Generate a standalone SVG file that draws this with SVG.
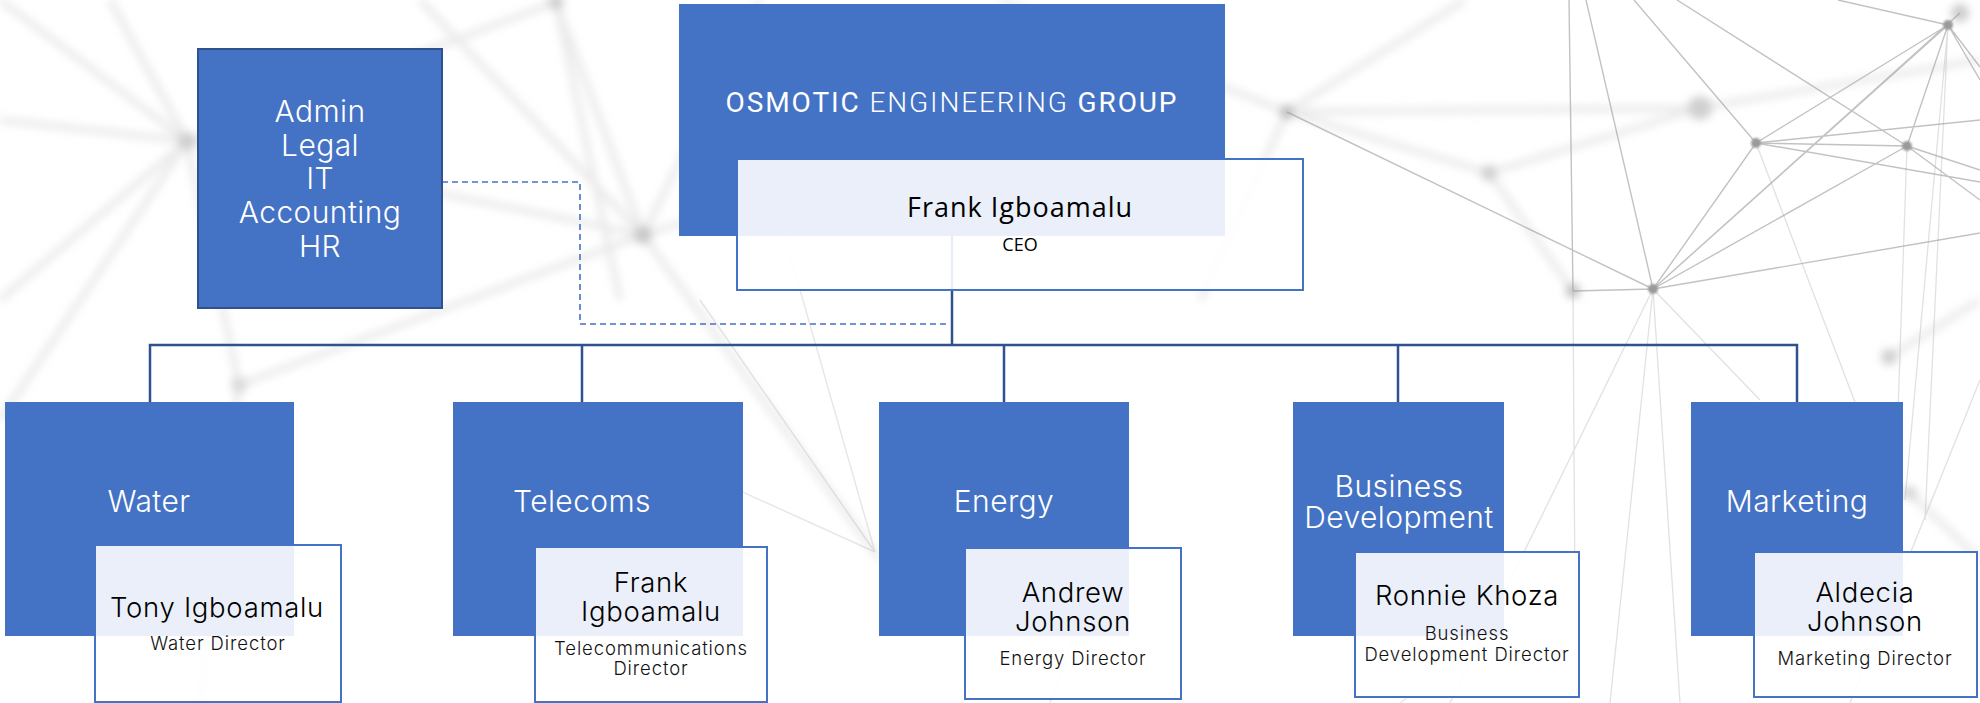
<svg xmlns="http://www.w3.org/2000/svg" width="1980" height="703" viewBox="0 0 1980 703">
<defs>
<filter id="blur" x="-20%" y="-20%" width="140%" height="140%"><feGaussianBlur stdDeviation="4"/></filter>
<filter id="blurS" x="-50%" y="-50%" width="200%" height="200%"><feGaussianBlur stdDeviation="1.2"/></filter>
<style>
.dept{fill:#4472C4;}
.person{fill:#FFFFFF;fill-opacity:0.89;stroke:#4472C4;stroke-width:2;}
.lbl{font-family:Inter,"Noto Sans",sans-serif;font-weight:300;fill:#FFFFFF;font-size:30px;letter-spacing:0.4px;text-anchor:middle;}
.name{font-family:Inter,"Noto Sans",sans-serif;font-weight:300;fill:#000000;font-size:27.5px;letter-spacing:0.7px;text-anchor:middle;}
.role{font-family:Inter,"Noto Sans",sans-serif;font-weight:300;fill:#111111;font-size:18.5px;letter-spacing:0.9px;text-anchor:middle;}
.conn{fill:none;stroke:#2F528F;stroke-width:2.5;}
.dash{fill:none;stroke:#4472C4;stroke-width:1.6;stroke-dasharray:6 4;}
.net{stroke:#9a9a9a;stroke-width:1.4;stroke-opacity:0.6;fill:none;}
.netl{stroke:#a8a8a8;stroke-width:1.3;stroke-opacity:0.35;fill:none;}
.netf{stroke:#d8d8d8;stroke-width:7;stroke-opacity:0.5;fill:none;}
.dot{fill:#9a9a9a;}
</style>
</defs>
<rect x="0" y="0" width="1980" height="703" fill="#FFFFFF"/>
<g id="background">
<g filter="url(#blur)">
<path class="netf" d="M187 141 L0 120 M187 141 L0 0 M187 141 L110 0 M187 141 L0 300 M187 141 L239 385 M187 141 L556 2 M187 141 L643 235 M187 141 L0 420 M643 235 L556 2 M643 235 L760 0 M643 235 L420 0 M643 235 L880 560 M643 235 L1000 120 M239 385 L643 235 M239 385 L200 703 M556 2 L620 300 M1287 112 L1465 0 M1287 112 L1000 0 M1287 112 L1489 173 M1287 112 L1700 108 M1287 112 L1200 300 M1489 173 L1700 108 M1489 173 L1573 291 M1700 108 L1980 60 M1889 357 L1980 300 M1910 493 L1980 560"/>
<circle cx="187" cy="141" r="9" fill="#cfcfcf"/>
<circle cx="643" cy="235" r="9" fill="#c8c8c8"/>
<circle cx="556" cy="2" r="8" fill="#d0d0d0"/>
<circle cx="239" cy="385" r="8" fill="#dadada"/>
<circle cx="1489" cy="173" r="8" fill="#d0d0d0"/>
<circle cx="1700" cy="108" r="12" fill="#d0d0d0"/>
<circle cx="1573" cy="291" r="7" fill="#bdbdbd"/>
<circle cx="1889" cy="357" r="8" fill="#cfcfcf"/>
<circle cx="1910" cy="493" r="7" fill="#d5d5d5"/>
<circle cx="1960" cy="13" r="9" fill="#cccccc"/>
<circle cx="1287" cy="112" r="7" fill="#bbbbbb"/>
</g>
<path class="net" d="M1653 289 L1948 25 M1653 289 L1960 13 M1653 289 L1756 143 M1653 289 L1907 146 M1756 143 L1948 25 M1907 146 L1948 25 M1756 143 L1907 146 M1756 143 L1980 182 M1907 146 L1980 170 M1907 146 L1980 200 M1586 0 L1653 289 M1634 0 L1756 143 M1677 0 L1907 146 M1653 289 L1980 233 M1653 289 L1573 291 M1287 112 L1653 289 M1948 25 L1980 67 M1838 0 L1948 25 M1948 25 L1980 80 M1756 143 L1980 120 M1569 0 L1573 291"/>
<path class="netl" d="M1573 291 L1575 600 M1756 143 L1900 520 M1653 289 L1610 703 M1653 289 L1760 400 M1948 25 L1905 500 M1948 25 L1925 520 M1907 146 L1895 500 M1653 289 L1450 703 M1980 380 L1850 703 M1653 289 L1680 703"/>
<path class="net" style="stroke-opacity:0.25" d="M650 450 L875 552 M700 300 L875 552 M760 150 L875 552 M1400 703 L1560 580 M1120 500 L1050 703"/>
<g filter="url(#blurS)">
<circle class="dot" cx="1948" cy="25" r="5"/>
<circle class="dot" cx="1756" cy="143" r="5"/>
<circle class="dot" cx="1907" cy="146" r="5"/>
<circle class="dot" cx="1653" cy="289" r="5"/>
</g>
</g>
<g id="connectors">
<path class="conn" d="M952 236 V345"/>
<path class="conn" d="M150 402 V345 H1797 V402"/>
<path class="conn" d="M582 345 V402 M1004 345 V402 M1398 345 V402"/>
<path class="dash" d="M442 182 H580 V324 H950"/>
</g>
<g id="node-support">
<rect x="198" y="49" width="244" height="259" fill="#4472C4" stroke="#2F528F" stroke-width="2"/>
<text class="lbl" x="320" y="122">Admin</text>
<text class="lbl" x="320" y="156">Legal</text>
<text class="lbl" x="320" y="189">IT</text>
<text class="lbl" x="320" y="223">Accounting</text>
<text class="lbl" x="320" y="257">HR</text>
</g>
<g id="node-group">
<rect class="dept" x="679" y="4" width="546" height="232"/>
<text x="952" y="112" font-family="Roboto,'Liberation Sans',sans-serif" font-size="28" letter-spacing="1.9" fill="#FFFFFF" text-anchor="middle"><tspan font-weight="400">OSMOTIC</tspan><tspan font-weight="300"> ENGINEERING </tspan><tspan font-weight="400">GROUP</tspan></text>
<rect class="person" x="737" y="159" width="566" height="131"/>
<text x="1020" y="217" font-family="'Open Sans','Noto Sans',sans-serif" font-size="27" letter-spacing="1" fill="#000000" text-anchor="middle">Frank Igboamalu</text>
<text x="1020" y="251" font-family="'Open Sans','Noto Sans',sans-serif" font-size="18" fill="#000000" text-anchor="middle">CEO</text>
</g>
<g id="node-water">
<rect class="dept" x="5" y="402" width="289" height="234"/>
<text class="lbl" x="149" y="512">Water</text>
<rect class="person" x="95" y="545" width="246" height="157"/>
<text class="name" x="217" y="617">Tony Igboamalu</text>
<text class="role" x="218" y="650">Water Director</text>
</g>
<g id="node-telecoms">
<rect class="dept" x="453" y="402" width="290" height="234"/>
<text class="lbl" x="582" y="512">Telecoms</text>
<rect class="person" x="535" y="547" width="232" height="155"/>
<text class="name" x="651" y="592">Frank</text>
<text class="name" x="651" y="621">Igboamalu</text>
<text class="role" x="651" y="655">Telecommunications</text>
<text class="role" x="651" y="675">Director</text>
</g>
<g id="node-energy">
<rect class="dept" x="879" y="402" width="250" height="234"/>
<text class="lbl" x="1004" y="512">Energy</text>
<rect class="person" x="965" y="548" width="216" height="151"/>
<text class="name" x="1073" y="602">Andrew</text>
<text class="name" x="1073" y="631">Johnson</text>
<text class="role" x="1073" y="665">Energy Director</text>
</g>
<g id="node-bizdev">
<rect class="dept" x="1293" y="402" width="211" height="234"/>
<text class="lbl" x="1399" y="497">Business</text>
<text class="lbl" x="1399" y="528">Development</text>
<rect class="person" x="1355" y="552" width="224" height="145"/>
<text class="name" x="1467" y="605">Ronnie Khoza</text>
<text class="role" x="1467" y="640">Business</text>
<text class="role" x="1467" y="661">Development Director</text>
</g>
<g id="node-marketing">
<rect class="dept" x="1691" y="402" width="212" height="234"/>
<text class="lbl" x="1797" y="512">Marketing</text>
<rect class="person" x="1754" y="552" width="223" height="145"/>
<text class="name" x="1865" y="602">Aldecia</text>
<text class="name" x="1865" y="631">Johnson</text>
<text class="role" x="1865" y="665">Marketing Director</text>
</g>
</svg>
